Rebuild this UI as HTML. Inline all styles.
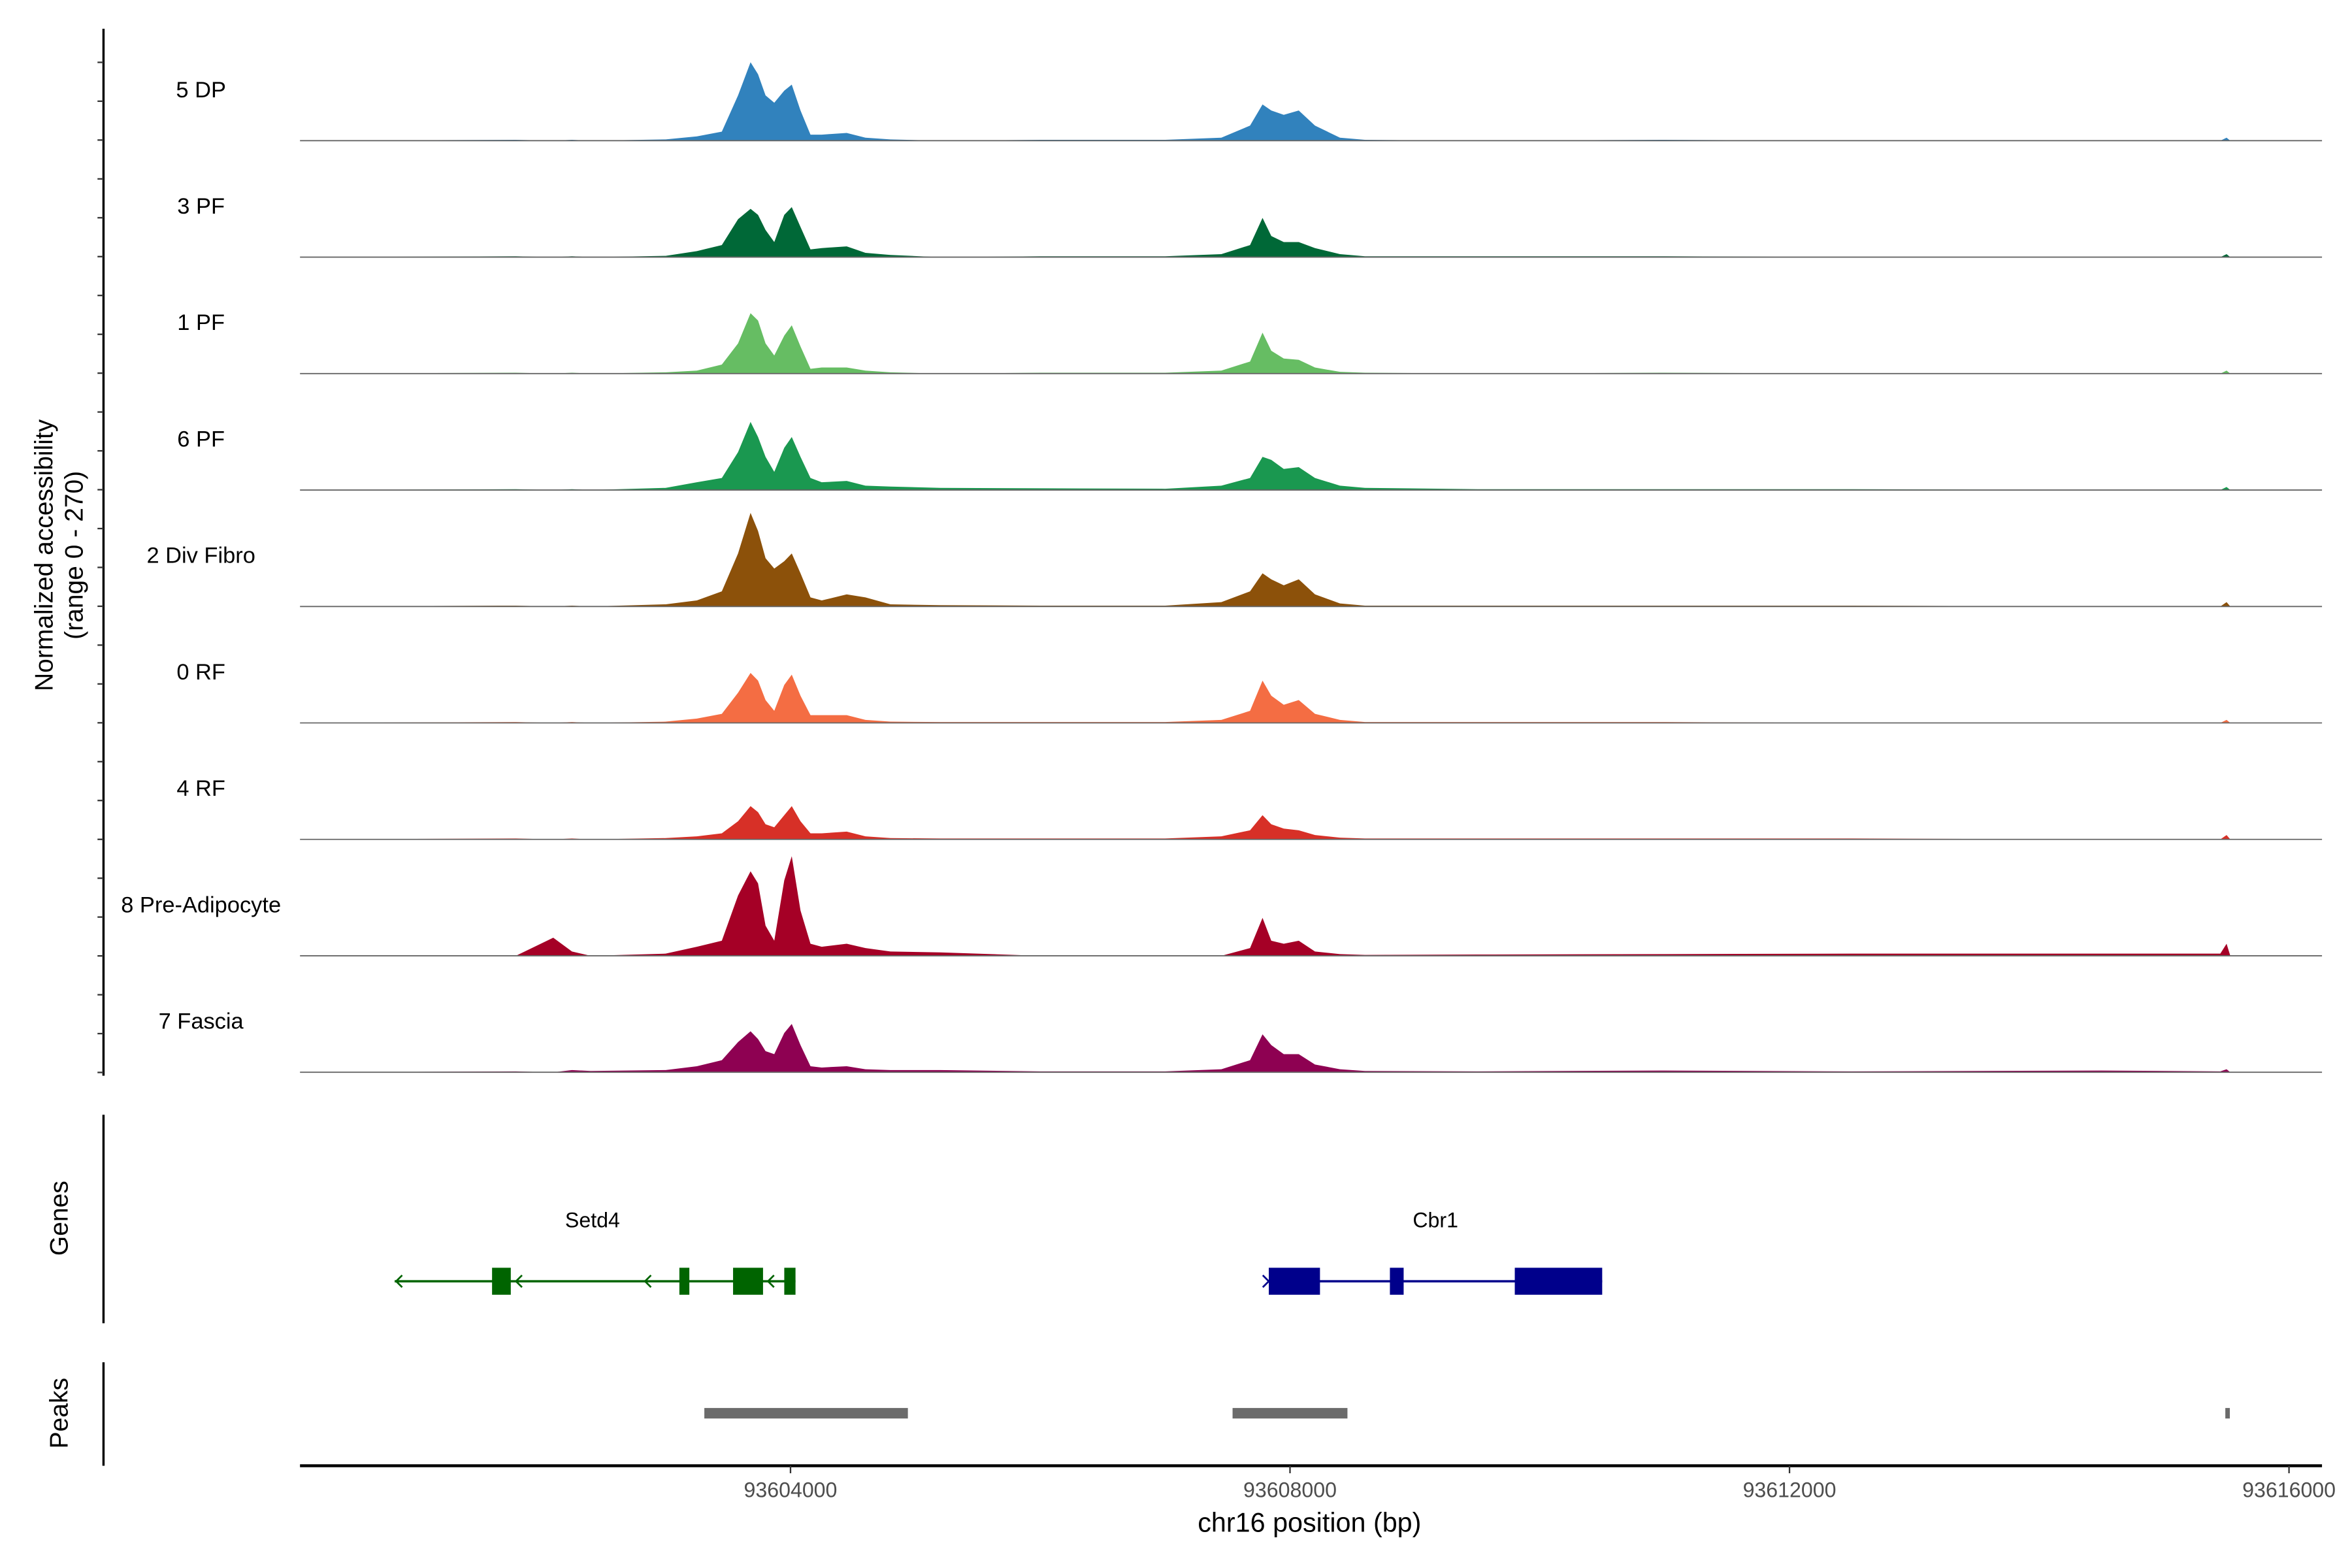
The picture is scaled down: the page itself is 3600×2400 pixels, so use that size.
<!DOCTYPE html>
<html><head><meta charset="utf-8"><style>
html,body{margin:0;padding:0;background:#fff;}
svg{display:block;font-family:"Liberation Sans",Arial,sans-serif;}
</style></head><body>
<svg id="chart" width="3600" height="2400" viewBox="0 0 1568 1045" xmlns="http://www.w3.org/2000/svg">
<rect width="1568" height="1045" fill="#fff"/>
<g id="tracks"></g>
<line x1="69" y1="19" x2="69" y2="717" stroke="#000" stroke-width="1.5"/>
<g id="yticks"></g>
<text transform="translate(35,370) rotate(-90)" text-anchor="middle" font-size="17">Normalized accessibility</text>
<text transform="translate(55,370) rotate(-90)" text-anchor="middle" font-size="17">(range 0 - 270)</text>
<line x1="69" y1="743" x2="69" y2="882" stroke="#000" stroke-width="1.5"/>
<text transform="translate(45,812) rotate(-90)" text-anchor="middle" font-size="17">Genes</text>
<line x1="69" y1="908" x2="69" y2="977" stroke="#000" stroke-width="1.5"/>
<text transform="translate(45,942) rotate(-90)" text-anchor="middle" font-size="17">Peaks</text>
<g id="genes"></g>
<g id="peaks"></g>
<line x1="200" y1="977" x2="1548" y2="977" stroke="#000" stroke-width="2"/>
<g id="xticks"></g>
<text x="873" y="1021" text-anchor="middle" font-size="18">chr16 position (bp)</text>
</svg>
<script>
const trackNames = ["5 DP","3 PF","1 PF","6 PF","2 Div Fibro","0 RF","4 RF","8 Pre-Adipocyte","7 Fascia"];
const trackColors = ["#3182bd","#006837","#66bd63","#1a9850","#8c510a","#f46d43","#d73027","#a50026","#8e0152"];
const positions = [93600100,93601800,93602100,93602250,93602400,93603000,93603250,93603450,93603580,93603680,93603740,93603800,93603870,93603950,93604010,93604080,93604160,93604250,93604450,93604600,93604800,93605200,93606000,93607000,93607450,93607680,93607780,93607850,93607950,93608070,93608200,93608400,93608600,93609500,93611000,93612500,93614500,93615450,93615500,93615530];
const cov5DP = [0,2,0,2,0,3,10,21,105,182,154,105,88,116,130,70,14,14,18,7,3,0,2,2,7,35,84,70,60,70,35,7,2,0,2,0,0,0,7,0];
const cov3PF = [0,2,0,2,0,3,14,28,88,112,98,63,35,98,116,70,18,21,25,10,5,0,2,2,7,28,91,49,35,35,21,7,2,2,2,0,0,0,7,0];
const cov1PF = [0,2,0,2,0,3,7,21,70,140,123,70,42,88,112,63,11,14,14,7,3,0,2,2,7,28,95,53,35,32,14,4,2,0,2,0,0,0,7,0];
const cov6PF = [0,2,0,2,0,5,18,28,88,158,123,77,42,98,123,77,28,18,21,10,8,5,4,3,10,28,77,70,49,53,28,10,5,2,2,2,0,0,7,0];
const cov2Div = [0,2,0,2,0,5,14,35,123,217,175,112,88,105,123,77,21,14,28,21,5,3,2,2,10,35,77,63,49,63,28,7,2,2,2,2,0,0,10,0];
const cov0RF = [0,2,0,2,0,3,10,21,70,116,98,53,28,88,112,63,18,18,18,7,3,2,2,2,7,28,98,63,42,53,21,7,2,2,2,0,0,0,7,0];
const cov4RF = [0,2,0,2,0,3,7,14,42,77,63,35,28,56,77,42,14,14,18,7,3,2,2,2,7,21,56,35,25,21,10,4,2,2,2,2,0,0,10,0];
const cov8Pre = [0,0,42,10,0,5,21,35,140,196,168,70,35,175,231,105,28,21,28,18,10,8,0,0,0,18,88,35,28,35,10,4,2,3,4,5,5,5,28,0];
const cov7Fas = [0,2,0,5,3,5,14,28,70,95,77,49,42,91,112,63,14,11,14,7,5,5,2,2,7,28,88,63,42,42,18,7,3,2,4,2,4,2,7,0];
const coverage = [cov5DP,cov3PF,cov1PF,cov6PF,cov2Div,cov0RF,cov4RF,cov8Pre,cov7Fas];
const xTicks = [93604000,93608000,93612000,93616000];
const peakRegionStarts = [93603310,93607540,93615490];
const peakRegionEnds = [93604940,93608460,93615520];
const setd4Exons = [[93601610,93601760],[93603110,93603190],[93603540,93603780],[93603950,93604040]];
const cbr1Exons = [[93607830,93608240],[93608800,93608910],[93609800,93610500]];

const NS="http://www.w3.org/2000/svg";
const xMin=93600072, pxPerBp=0.08325, x0=200;
const X = bp => x0 + (bp - xMin)*pxPerBp;
const trackTop=16, trackH=77.63, yMax=270;
function mk(tag, attrs, parent){const e=document.createElementNS(NS,tag);for(const k in attrs)e.setAttribute(k,attrs[k]);parent.appendChild(e);return e;}
const tg=document.getElementById('tracks');
trackNames.forEach((name,i)=>{
  const base = trackTop + (i+1)*trackH;
  const Y = v => base - v/yMax*trackH;
  const g = mk('g',{},tg);
  
  
  let d='M'+X(positions[0]).toFixed(2)+','+base;
  coverage[i].forEach((v,j)=>{d+=' L'+X(positions[j]).toFixed(2)+','+Y(v).toFixed(2);});
  d+=' L'+X(positions[positions.length-1]).toFixed(2)+','+base+' Z';
  const p=mk('path',{d:d,fill:trackColors[i]},g);
  
  
  const l=mk('line',{x1:200,x2:1548,y1:base,y2:base,stroke:'#666','stroke-width':0.8},g);
  
  
  const t=mk('text',{x:134,y:base-29,'text-anchor':'middle','font-size':15},g);
  t.textContent=name;
  
  
});
const yt=document.getElementById('yticks');
for(let k=1;k<28;k++){
  const y=15.5+k*25.9; if(y>716) break;
  const l=mk('line',{x1:65,x2:69,y1:y,y2:y,stroke:'#333','stroke-width':1},yt);
  
  
}
const xt=document.getElementById('xticks');
xTicks.forEach(v=>{
  const x=X(v);
  const l=mk('line',{x1:x,x2:x,y1:977,y2:982,stroke:'#333','stroke-width':1},xt);
  
  
  const t=mk('text',{x:x,y:998,'text-anchor':'middle','font-size':14,fill:'#4d4d4d'},xt);
  t.textContent=String(v);
  
  
});
const pg=document.getElementById('peaks');
peakRegionStarts.forEach((s,i)=>{
  const r=mk('rect',{x:X(s),y:938.5,width:Math.max(3,X(peakRegionEnds[i])-X(s)),height:7,fill:'#6b6b6b'},pg);
  
  
});
const gg=document.getElementById('genes');
function gene(name,start,end,exons,color,strandLeft,labelX){
  const g=mk('g',{},gg);
  
  
  mk('line',{x1:X(start),x2:X(end),y1:854,y2:854,stroke:color,'stroke-width':1.5},g);
  exons.forEach(e=>{
    const r=mk('rect',{x:X(e[0]),y:845,width:X(e[1])-X(e[0]),height:18,fill:color},g);
    
    
  });
  const arrows = strandLeft?[X(start)+1,344,430,512]:[X(start)];
  arrows.forEach(ax=>{
    const dir=strandLeft?1:-1;
    mk('path',{d:`M${ax+dir*4},850 L${ax},854 L${ax+dir*4},858`,stroke:color,fill:'none','stroke-width':1.2},g);
  });
  const t=mk('text',{x:labelX,y:818,'text-anchor':'middle','font-size':14},g);
  t.textContent=name;
  
  
}
gene('Setd4',93600830,93604040,setd4Exons,'#006400',true,395);
gene('Cbr1',93607830,93610500,cbr1Exons,'#00008b',false,957);
</script>
</body></html>
